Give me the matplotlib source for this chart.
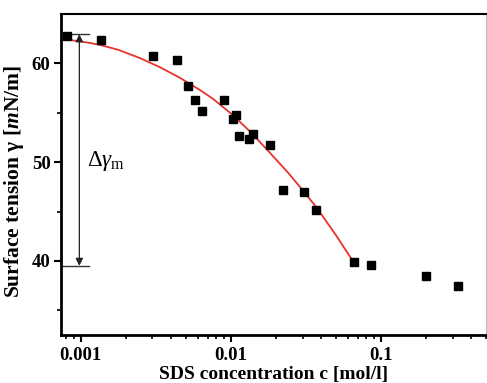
import matplotlib
matplotlib.use('Agg')
import matplotlib.pyplot as plt
from matplotlib.ticker import LogLocator, NullFormatter, FixedLocator

plt.rcParams['font.family'] = 'Liberation Serif'
plt.rcParams['mathtext.fontset'] = 'custom'
plt.rcParams['mathtext.rm'] = 'Liberation Serif'
plt.rcParams['mathtext.it'] = 'Liberation Serif:italic'
plt.rcParams['mathtext.bf'] = 'Liberation Serif:bold:italic'

# measured points
conc = [0.000815, 0.00137, 0.00303, 0.00439, 0.00519, 0.00573, 0.00644,
        0.00894, 0.0109, 0.0103, 0.0114, 0.0132, 0.0141, 0.0183, 0.0224,
        0.0307, 0.0369, 0.0658, 0.0857, 0.199, 0.327]
gamma = [62.8, 62.4, 60.7, 60.3, 57.7, 56.3, 55.2,
         56.3, 54.8, 54.4, 52.6, 52.3, 52.9, 51.7, 47.2,
         47.0, 45.2, 39.9, 39.6, 38.5, 37.5]

# fitted curve
fit_c = [0.000826, 0.001122, 0.00134, 0.001778, 0.002472, 0.003365, 0.004571,
         0.00631, 0.007621, 0.01035, 0.01374, 0.0182, 0.02399, 0.03034,
         0.03724, 0.05012, 0.06531]
fit_g = [62.40, 62.10, 61.88, 61.38, 60.55, 59.62, 58.55,
         57.25, 56.40, 54.75, 52.95, 50.95, 48.95, 47.10,
         45.40, 42.60, 39.93]

gamma_top = 62.95
gamma_bot = 39.5
arrow_c = 0.00098

fig = plt.figure(figsize=(4.87, 3.83), dpi=100)
ax = fig.add_axes([0.1253, 0.1253, 0.8727, 0.8381])

ax.plot(fit_c, fit_g, color='#e8322d', lw=1.3, zorder=2)
ax.plot(conc, gamma, 's', color='black', ms=5.3, zorder=3)

ax.set_xscale('log')
ax.set_xlim(0.00074, 0.5)
ax.set_ylim(32.5, 65)

# delta gamma annotation
ax.plot([0.00074, 0.00114], [gamma_top, gamma_top], color='#333333', lw=1)
ax.plot([0.00074, 0.00114], [gamma_bot, gamma_bot], color='#333333', lw=1)
ax.annotate('', xy=(arrow_c, gamma_bot), xytext=(arrow_c, gamma_top),
            arrowprops=dict(arrowstyle='<|-|>', color='#222222', lw=0.9,
                            mutation_scale=11, shrinkA=0, shrinkB=0))
ax.text(0.00111, 50.1, r'$\Delta\gamma_{\rm m}$', fontsize=16.5, va='center', ha='left')

ax.xaxis.set_major_locator(FixedLocator([0.001, 0.01, 0.1]))
ax.set_xticklabels(['0.001', '0.01', '0.1'])
ax.xaxis.set_minor_locator(LogLocator(base=10, subs=range(2, 10)))
ax.xaxis.set_minor_formatter(NullFormatter())
ax.set_yticks([40, 50, 60])
ax.set_yticks([35, 45, 55], minor=True)

for lab in ax.get_xticklabels() + ax.get_yticklabels():
    lab.set_fontweight('bold')
    lab.set_fontsize(13.5)

ax.tick_params(which='major', direction='out', length=5, width=1.5)
ax.tick_params(which='minor', direction='out', length=3, width=1.2)
ax.tick_params(axis='y', which='both', right=False, pad=2.5)
ax.tick_params(axis='x', which='both', top=False)

ax.spines['left'].set_linewidth(2)
ax.spines['bottom'].set_linewidth(2)
ax.spines['top'].set_linewidth(1.5)
ax.spines['right'].set_linewidth(0.8)
ax.spines['right'].set_color('#bbbbbb')

ax.set_xlabel('SDS concentration c [mol/l]', fontsize=14, fontweight='bold', labelpad=1.5)
ax.set_ylabel(r'Surface tension γ [$\mathbf{m}$N/m]', fontsize=15.5, fontweight='bold')
ax.yaxis.set_label_coords(-0.083, 0.48)

plt.savefig('out.png', dpi=100)
